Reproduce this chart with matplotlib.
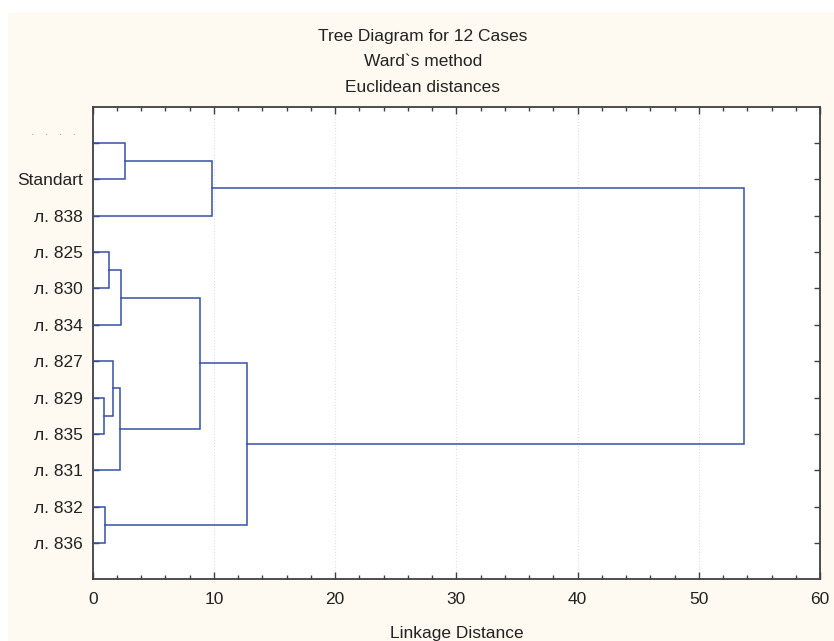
import matplotlib
matplotlib.use("Agg")
import matplotlib.pyplot as plt
from matplotlib.patches import Rectangle
from matplotlib.ticker import MultipleLocator
from matplotlib.transforms import ScaledTranslation

# ---- data ----
leaf_labels = [".   .   .   .  ", "Standart", "л. 838", "л. 825", "л. 830", "л. 834",
               "л. 827", "л. 829", "л. 835", "л. 831", "л. 832", "л. 836"]
# merges: (child_a, child_b, linkage distance); new cluster ids start at 12
merge_a = [0, 12, 3, 14, 7, 6, 17, 15, 10, 19, 13]
merge_b = [1, 2, 4, 5, 8, 16, 9, 18, 11, 20, 21]
merge_h = [2.67, 9.82, 1.35, 2.32, 0.91, 1.71, 2.29, 8.85, 1.04, 12.73, 53.76]
title_lines = ["Tree Diagram for 12 Cases", "Ward`s method", "Euclidean distances"]
x_label = "Linkage Distance"

plt.rcParams['font.family'] = ['Liberation Sans', 'DejaVu Sans']
FS = 12.5
LINE = "#3550a6"
TXT = "#222222"

fig = plt.figure(figsize=(8.34, 6.41), dpi=100, facecolor="white")
fig.patches.append(Rectangle((8 / 834, 0), 1, 1 - 13 / 641, transform=fig.transFigure,
                             facecolor="#fefaf1", edgecolor="none", zorder=-10))

ax = fig.add_axes([92.7 / 834, 1 - 579.3 / 641, (820 - 92.7) / 834, (579.3 - 106.7) / 641])
ax.set_facecolor("white")

n = len(leaf_labels)
ypos = {i: i + 1 for i in range(n)}
xpos = {i: 0.0 for i in range(n)}
for k, (a, b, h) in enumerate(zip(merge_a, merge_b, merge_h)):
    node = n + k
    ya, yb = ypos[a], ypos[b]
    ax.plot([xpos[a], h, h, xpos[b]], [ya, ya, yb, yb], color=LINE, lw=1.1,
            solid_joinstyle="miter", zorder=3)
    ypos[node] = (ya + yb) / 2
    xpos[node] = h

ax.set_xlim(0, 60)
ax.set_ylim(n + 1, 0)
ax.xaxis.set_major_locator(MultipleLocator(10))
ax.xaxis.set_minor_locator(MultipleLocator(2))
ax.set_yticks(range(1, n + 1))
ax.set_yticklabels(leaf_labels)
ax.tick_params(axis="both", which="both", direction="in", colors="#404040",
               labelcolor=TXT, labelsize=FS, top=True, right=True, width=1.0)
ax.tick_params(axis="x", which="major", length=5, pad=9.5)
ax.tick_params(axis="x", which="minor", length=3)
ax.tick_params(axis="y", which="major", length=4, pad=7)

first = ax.get_yticklabels()[0]
first.set_fontsize(9)
first.set_color("#a0a0a0")
first.set_va("baseline")
first.set_transform(first.get_transform() +
                    ScaledTranslation(0, 6 / 72, fig.dpi_scale_trans))

for s in ax.spines.values():
    s.set_color("#404040")
    s.set_linewidth(1.3)

ax.grid(axis="x", which="major", color="#e0e0e0", linestyle=":", linewidth=0.8)
ax.set_axisbelow(True)

ax.set_xlabel(x_label, fontsize=FS, color=TXT, labelpad=13)

for i, t in enumerate(title_lines):
    fig.text(423 / 834, 1 - (36 + 25.5 * i) / 641, t, ha="center", va="center",
             fontsize=FS, color=TXT)

fig.savefig("out.png", dpi=100, facecolor=fig.get_facecolor())
